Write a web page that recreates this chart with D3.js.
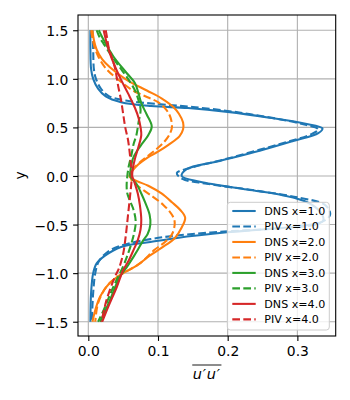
<!DOCTYPE html>
<html>
<head>
<meta charset="utf-8">
<script src="https://cdn.jsdelivr.net/npm/d3@7"></script>
<style>
  body { margin: 0; background: #fff; }
  svg { font-family: "DejaVu Sans", sans-serif; }
</style>
</head>
<body>
<svg id="chart" width="350" height="400"></svg>
<script>
// profiles of u'u' against y: [u'u', y]
var labels = ["DNS x=1.0", "PIV x=1.0", "DNS x=2.0", "PIV x=2.0",
	"DNS x=3.0", "PIV x=3.0", "DNS x=4.0", "PIV x=4.0"];
var colors = ["#1f77b4", "#1f77b4", "#ff7f0e", "#ff7f0e",
	"#2ca02c", "#2ca02c", "#d62728", "#d62728"];

var dns1 = [[0.003,1.5],[0.003,1.3],[0.004,1.1],[0.007,1.0],[0.014,0.9],[0.025,0.82],[0.047,0.76],
	[0.09,0.72],[0.143,0.70],[0.2,0.66],[0.26,0.6],[0.31,0.54],[0.336,0.49],[0.33,0.44],[0.294,0.36],
	[0.246,0.26],[0.185,0.15],[0.141,0.07],[0.134,0.0],[0.16,-0.06],[0.228,-0.14],[0.28,-0.2],
	[0.314,-0.27],[0.333,-0.37],[0.337,-0.46],[0.31,-0.51],[0.25,-0.55],[0.199,-0.58],[0.125,-0.64],
	[0.089,-0.68],[0.047,-0.73],[0.024,-0.82],[0.012,-0.9],[0.007,-1.0],[0.004,-1.2],[0.003,-1.5]];
var piv1 = [[0.006,1.5],[0.007,1.3],[0.008,1.1],[0.011,1.0],[0.018,0.9],[0.03,0.82],[0.06,0.77],
	[0.1,0.74],[0.15,0.71],[0.21,0.66],[0.27,0.59],[0.31,0.53],[0.33,0.48],[0.32,0.43],[0.275,0.33],
	[0.2,0.18],[0.15,0.09],[0.127,0.03],[0.135,-0.03],[0.17,-0.08],[0.24,-0.15],[0.3,-0.22],
	[0.34,-0.3],[0.347,-0.4],[0.33,-0.49],[0.27,-0.54],[0.2,-0.57],[0.13,-0.61],[0.089,-0.65],
	[0.05,-0.71],[0.028,-0.78],[0.015,-0.88],[0.01,-1.0],[0.007,-1.2],[0.005,-1.5]];
var dns2 = [[0.006,1.5],[0.008,1.4],[0.012,1.3],[0.02,1.2],[0.031,1.12],[0.055,0.99],[0.084,0.88],
	[0.105,0.8],[0.122,0.71],[0.13,0.64],[0.136,0.55],[0.136,0.48],[0.131,0.41],[0.115,0.32],
	[0.1,0.25],[0.085,0.19],[0.072,0.12],[0.064,0.06],[0.059,0.0],[0.066,-0.04],[0.086,-0.1],
	[0.105,-0.18],[0.12,-0.27],[0.132,-0.35],[0.139,-0.43],[0.134,-0.53],[0.124,-0.64],[0.105,-0.74],
	[0.088,-0.82],[0.07,-0.92],[0.05,-1.0],[0.031,-1.1],[0.017,-1.24],[0.01,-1.38],[0.006,-1.5]];
var piv2 = [[0.004,1.5],[0.008,1.35],[0.015,1.22],[0.026,1.1],[0.045,0.98],[0.064,0.88],[0.085,0.81],
	[0.1,0.76],[0.112,0.68],[0.118,0.6],[0.12,0.5],[0.116,0.42],[0.11,0.36],[0.1,0.29],[0.088,0.22],
	[0.074,0.14],[0.064,0.07],[0.06,0.02],[0.062,-0.04],[0.072,-0.11],[0.09,-0.2],[0.108,-0.3],
	[0.12,-0.4],[0.124,-0.48],[0.12,-0.6],[0.11,-0.68],[0.095,-0.76],[0.074,-0.9],[0.041,-1.04],
	[0.026,-1.14],[0.014,-1.31],[0.01,-1.5]];
var dns3 = [[0.015,1.5],[0.022,1.4],[0.036,1.23],[0.055,1.06],[0.067,0.955],[0.072,0.85],[0.076,0.75],
	[0.084,0.63],[0.091,0.51],[0.086,0.42],[0.078,0.34],[0.07,0.26],[0.064,0.18],[0.061,0.08],
	[0.06,0.0],[0.064,-0.04],[0.069,-0.08],[0.076,-0.18],[0.082,-0.28],[0.088,-0.4],[0.089,-0.5],
	[0.085,-0.6],[0.079,-0.66],[0.071,-0.76],[0.065,-0.83],[0.055,-0.94],[0.045,-1.04],[0.031,-1.28],
	[0.017,-1.5]];
var piv3 = [[0.012,1.5],[0.016,1.43],[0.022,1.36],[0.033,1.24],[0.045,1.12],[0.057,1.0],[0.067,0.88],
	[0.072,0.78],[0.075,0.68],[0.072,0.55],[0.069,0.42],[0.065,0.33],[0.062,0.22],[0.058,0.1],
	[0.056,0.0],[0.055,-0.1],[0.056,-0.18],[0.06,-0.26],[0.065,-0.35],[0.068,-0.47],[0.066,-0.58],
	[0.062,-0.69],[0.057,-0.8],[0.05,-0.93],[0.036,-1.14],[0.022,-1.38],[0.014,-1.5]];
var dns4 = [[0.022,1.5],[0.026,1.38],[0.031,1.26],[0.045,1.02],[0.057,0.85],[0.067,0.7],[0.072,0.6],
	[0.075,0.5],[0.076,0.42],[0.072,0.3],[0.067,0.18],[0.064,0.08],[0.063,0.0],[0.066,-0.06],
	[0.071,-0.18],[0.074,-0.3],[0.076,-0.45],[0.075,-0.55],[0.071,-0.66],[0.065,-0.76],[0.058,-0.87],
	[0.05,-0.97],[0.041,-1.14],[0.029,-1.34],[0.02,-1.5]];
var piv4 = [[0.025,1.5],[0.027,1.42],[0.029,1.33],[0.038,1.12],[0.043,0.92],[0.047,0.78],[0.05,0.64],
	[0.053,0.5],[0.057,0.37],[0.06,0.2],[0.062,0.05],[0.062,-0.05],[0.06,-0.2],[0.057,-0.4],
	[0.054,-0.6],[0.05,-0.8],[0.044,-0.95],[0.038,-1.04],[0.026,-1.28],[0.019,-1.5]];

var xTicks = [0.0, 0.1, 0.2, 0.3];
var yTicks = [-1.5, -1.0, -0.5, 0.0, 0.5, 1.0, 1.5];

var series = [dns1, piv1, dns2, piv2, dns3, piv3, dns4, piv4];

var svg = d3.select("#chart");
var margin = {left: 78, top: 15, right: 14.3, bottom: 64};
var width = 350 - margin.left - margin.right;
var height = 400 - margin.top - margin.bottom;

var x = d3.scaleLinear().domain([-0.0148, 0.355]).range([0, width]);
var y = d3.scaleLinear().domain([-1.647, 1.657]).range([height, 0]);

var g = svg.append("g")
	.attr("transform", "translate(" + margin.left + "," + margin.top + ")");

g.append("clipPath").attr("id", "clip")
	.append("rect").attr("width", width).attr("height", height);

// grid
g.append("g").selectAll("line").data(xTicks).enter().append("line")
	.attr("x1", function (d) { return x(d); }).attr("x2", function (d) { return x(d); })
	.attr("y1", 0).attr("y2", height)
	.attr("stroke", "#b0b0b0").attr("stroke-width", 1.1);
g.append("g").selectAll("line").data(yTicks).enter().append("line")
	.attr("y1", function (d) { return y(d); }).attr("y2", function (d) { return y(d); })
	.attr("x1", 0).attr("x2", width)
	.attr("stroke", "#b0b0b0").attr("stroke-width", 1.1);

var line = d3.line()
	.x(function (d) { return x(d[0]); })
	.y(function (d) { return y(d[1]); })
	.curve(d3.curveCatmullRom);

g.append("g").attr("clip-path", "url(#clip)")
	.selectAll("path").data(series).enter().append("path")
	.attr("d", line)
	.attr("fill", "none")
	.attr("stroke", function (d, i) { return colors[i]; })
	.attr("stroke-width", 2.08)
	.attr("stroke-dasharray", function (d, i) { return i % 2 ? "7.7,3.3" : null; });

// axes
var fmt = function (d) { return d3.format(".1f")(d).replace("-", "\u2212"); };
var xAxis = g.append("g").attr("transform", "translate(0," + height + ")")
	.call(d3.axisBottom(x).tickValues(xTicks).tickFormat(fmt).tickSizeOuter(0).tickSize(4.9).tickPadding(4.5));
var yAxis = g.append("g")
	.call(d3.axisLeft(y).tickValues(yTicks).tickFormat(fmt).tickSizeOuter(0).tickSize(4.9).tickPadding(4.8));
[xAxis, yAxis].forEach(function (a) {
	a.select(".domain").remove();
	a.selectAll("line").attr("stroke", "#000").attr("stroke-width", 1.1);
	a.selectAll("text").attr("fill", "#000").style("font-size", "13.9px")
		.style("font-family", "DejaVu Sans");
});
yAxis.selectAll("text").attr("dy", "0.4em");
xAxis.selectAll("text").attr("dy", "0.76em");

g.append("rect").attr("width", width).attr("height", height)
	.attr("fill", "none").attr("stroke", "#000").attr("stroke-width", 1.1);

// legend
var lg = svg.append("g");
lg.append("rect")
	.attr("x", 227.3).attr("y", 202.3).attr("width", 102).attr("height", 127.7)
	.attr("rx", 3).attr("fill", "#fff").attr("fill-opacity", 0.8)
	.attr("stroke", "#cccccc").attr("stroke-width", 1);
var rows = lg.selectAll("g.row").data(labels).enter().append("g")
	.attr("class", "row")
	.attr("transform", function (d, i) { return "translate(0," + (211 + i * 15.48) + ")"; });
rows.append("line")
	.attr("x1", 232.3).attr("x2", 255.7)
	.attr("stroke", function (d, i) { return colors[i]; })
	.attr("stroke-width", 2.08)
	.attr("stroke-dasharray", function (d, i) { return i % 2 ? "7.7,3.3" : null; });
rows.append("text")
	.attr("x", 264.3).attr("dy", "0.36em")
	.style("font-size", "11.1px")
	.text(function (d) { return d; });

// labels
var xl = svg.append("text")
	.attr("x", margin.left + width / 2).attr("y", 379)
	.attr("text-anchor", "middle")
	.style("font-size", "14.5px").style("font-style", "italic")
	.style("letter-spacing", "0.8px")
	.text("u\u2032u\u2032");
var bb = xl.node().getBBox();
svg.append("line")
	.attr("x1", bb.x - 0.5).attr("x2", bb.x + bb.width + 0.5)
	.attr("y1", 365).attr("y2", 365)
	.attr("stroke", "#000").attr("stroke-width", 0.9);

svg.append("text")
	.attr("transform", "translate(25," + (margin.top + height / 2) + ") rotate(-90)")
	.attr("text-anchor", "middle")
	.style("font-size", "13.9px")
	.text("y");
</script>
</body>
</html>
